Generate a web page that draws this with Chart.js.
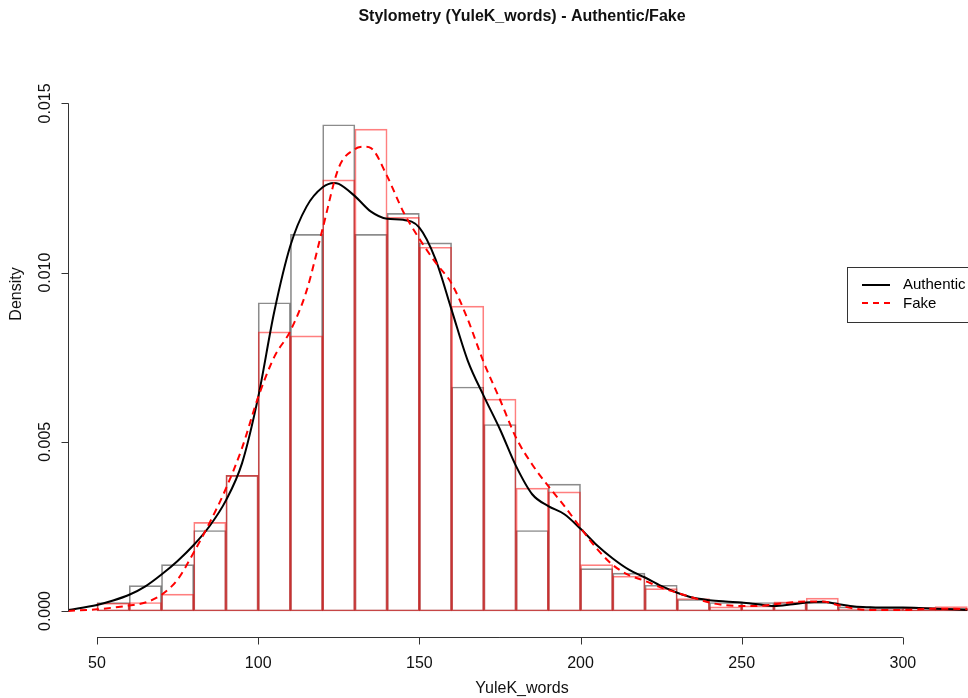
<!DOCTYPE html>
<html><head><meta charset="utf-8">
<script src="https://cdn.jsdelivr.net/npm/chart.js@4.4.1/dist/chart.umd.min.js"></script>
<style>html,body{margin:0;padding:0;background:#fff;overflow:hidden}#wrap{width:968px;height:698px;position:relative}</style>
</head><body><div id="wrap"><canvas id="c" width="968" height="698"></canvas></div>
<script>
// ---- data ----
const titleText = "Stylometry (YuleK_words) - Authentic/Fake";
const xLabel = "YuleK_words";
const yLabel = "Density";
const seriesNames = ["Authentic", "Fake"];
const xTicks = [50, 100, 150, 200, 250, 300];
const yTicks = [0, 0.005, 0.010, 0.015];
const yTickLabels = ["0.000", "0.005", "0.010", "0.015"];
const binWidth = 10;
const binStarts = [50,60,70,80,90,100,110,120,130,140,150,160,170,180,190,200,210,220,230,240,250,260,270,280,290,300,310];
const authHist = [0.00025,0.00075,0.00137,0.00238,0.00401,0.00911,0.01113,0.01437,0.01113,0.01175,0.01088,0.00662,0.00551,0.00238,0.00375,0.00125,0.00112,0.00076,0.00034,0.00025,0.00025,0.00025,0.00025,0.00012,0.0001,0.0001,0.00008];
const fakeHist = [0.00023,0.00025,0.0005,0.00262,0.00401,0.00825,0.00813,0.01274,0.01424,0.01163,0.01075,0.00901,0.00626,0.00363,0.00352,0.00137,0.00103,0.00066,0.00037,0.00012,0.00015,0.00027,0.00038,0.00005,0.00005,0.0001,0.00013];
const authCurveX = [41,50,55,60,65,70,75,80,85,90,95,100,105,110,115,120,123.5,125,130,135,140,145,150,155,160,165,170,175,180,185,190,195,200,205,210,215,220,225,230,235,240,245,250,255,260,265,270,275,280,285,290,295,300,305,310,315,320];
const authCurveY = [0.00003,0.00018,0.00031,0.00048,0.00073,0.00108,0.00148,0.00195,0.00252,0.00327,0.00437,0.00632,0.00885,0.0108,0.01195,0.01252,0.01265,0.01262,0.01226,0.0118,0.01159,0.01156,0.01133,0.0104,0.0089,0.0074,0.00635,0.00537,0.00428,0.00345,0.0031,0.00286,0.00243,0.00195,0.00155,0.00122,0.00099,0.00074,0.00054,0.00039,0.00032,0.00028,0.00025,0.0002,0.00015,0.00019,0.00025,0.00027,0.0002,0.00013,0.00011,0.0001,0.0001,0.00009,0.00007,0.00005,0.00003];
const fakeCurveX = [41,50,55,60,65,70,75,80,85,90,95,100,105,110,115,120,125,130,133,135,140,145,150,155,160,165,170,175,180,185,190,195,200,205,210,215,220,225,230,235,240,245,250,255,260,265,270,275,280,285,290,295,300,305,310,315,320];
const fakeCurveY = [0.0,0.00005,0.0001,0.00016,0.00025,0.00048,0.00093,0.00173,0.00262,0.00362,0.00482,0.00632,0.00751,0.00828,0.00946,0.0113,0.0131,0.01365,0.01372,0.01368,0.01285,0.0118,0.011,0.0103,0.00968,0.00862,0.00734,0.00625,0.00512,0.00433,0.00369,0.0031,0.00246,0.00185,0.00136,0.00106,0.00089,0.00069,0.00054,0.00039,0.00025,0.00017,0.00015,0.00015,0.0002,0.00025,0.00028,0.00028,0.00017,0.00007,0.00003,0.00003,0.00003,0.00005,0.00007,0.00007,0.00005];

// ---- build ----
const toBars = (h) => binStarts.map((s, i) => ({x: s + binWidth / 2, y: h[i]}));
const toPts = (xs, ys) => xs.map((v, i) => ({x: v, y: ys[i]}));
const FONT = "'Liberation Sans', Arial, Helvetica, sans-serif";

const rAxes = {
  id: 'rAxes',
  afterDraw(chart) {
    const ctx = chart.ctx, xs = chart.scales.x, ys = chart.scales.y, ca = chart.chartArea;
    ctx.save();
    ctx.strokeStyle = '#333'; ctx.fillStyle = '#111'; ctx.lineWidth = 1;
    // x axis
    const axY = Math.round(ca.bottom) + 0.5;
    ctx.beginPath();
    ctx.moveTo(xs.getPixelForValue(xTicks[0]), axY);
    ctx.lineTo(xs.getPixelForValue(xTicks[xTicks.length - 1]), axY);
    xTicks.forEach(t => { const p = Math.round(xs.getPixelForValue(t)) + 0.5; ctx.moveTo(p, axY); ctx.lineTo(p, axY + 7); });
    ctx.stroke();
    ctx.font = '16px ' + FONT; ctx.textAlign = 'center'; ctx.textBaseline = 'middle';
    xTicks.forEach(t => ctx.fillText(String(t), xs.getPixelForValue(t), axY + 26));
    ctx.fillText(xLabel, (ca.left + 976) / 2, axY + 51);
    // y axis
    const axX = Math.round(ca.left) + 0.5;
    ctx.beginPath();
    ctx.moveTo(axX, ys.getPixelForValue(yTicks[0]));
    ctx.lineTo(axX, ys.getPixelForValue(yTicks[yTicks.length - 1]));
    yTicks.forEach(t => { const p = Math.round(ys.getPixelForValue(t)) + 0.5; ctx.moveTo(axX, p); ctx.lineTo(axX - 7, p); });
    ctx.stroke();
    yTicks.forEach((t, i) => {
      ctx.save(); ctx.translate(axX - 23, ys.getPixelForValue(t)); ctx.rotate(-Math.PI / 2);
      ctx.fillText(yTickLabels[i], 0, 0); ctx.restore();
    });
    ctx.save(); ctx.translate(17, 294); ctx.rotate(-Math.PI / 2); ctx.fillText(yLabel, 0, 0); ctx.restore();
    // title
    ctx.font = 'bold 16px ' + FONT;
    ctx.fillText(titleText, (ca.left + 976) / 2, 17);
    // legend
    ctx.strokeStyle = '#333'; ctx.lineWidth = 1;
    ctx.strokeRect(847.5, 267.5, 140, 55);
    ctx.lineWidth = 2; ctx.strokeStyle = '#000';
    ctx.beginPath(); ctx.moveTo(862, 285); ctx.lineTo(890, 285); ctx.stroke();
    ctx.strokeStyle = '#ff0000'; ctx.setLineDash([6, 5]);
    ctx.beginPath(); ctx.moveTo(862, 303); ctx.lineTo(890, 303); ctx.stroke();
    ctx.setLineDash([]);
    ctx.font = '15px ' + FONT; ctx.textAlign = 'left'; ctx.fillStyle = '#000';
    ctx.fillText(seriesNames[0], 903, 285);
    ctx.fillText(seriesNames[1], 903, 304);
    ctx.restore();
  }
};

const pxPerUnit = 33840;
new Chart(document.getElementById('c'), {
  data: {
    datasets: [
      { type: 'bar', label: 'Authentic hist', data: toBars(authHist), backgroundColor: 'rgba(0,0,0,0)',
        borderColor: 'rgba(0,0,0,0.45)', borderWidth: 1, borderSkipped: false, grouped: false,
        barPercentage: 1, categoryPercentage: 1, order: 4 },
      { type: 'bar', label: 'Fake hist', data: toBars(fakeHist), backgroundColor: 'rgba(0,0,0,0)',
        borderColor: 'rgba(255,0,0,0.5)', borderWidth: 1, borderSkipped: false, grouped: false,
        barPercentage: 1, categoryPercentage: 1, order: 3 },
      { type: 'line', label: seriesNames[0], data: toPts(authCurveX, authCurveY), borderColor: '#000',
        borderWidth: 2, pointRadius: 0, cubicInterpolationMode: 'monotone', fill: false, order: 2 },
      { type: 'line', label: seriesNames[1], data: toPts(fakeCurveX, fakeCurveY), borderColor: '#ff0000',
        borderWidth: 2, borderDash: [7, 5], pointRadius: 0, cubicInterpolationMode: 'monotone', fill: false, order: 1 }
    ]
  },
  options: {
    responsive: false, animation: false, devicePixelRatio: 1,
    layout: { padding: { left: 68, right: 0, top: 100, bottom: 61 } },
    plugins: { legend: { display: false }, title: { display: false }, tooltip: { enabled: false } },
    scales: {
      x: { type: 'linear', display: false, offset: false, min: 41, max: 320.2,
           afterBuildTicks: (s) => { s.ticks = binStarts.map(v => ({ value: v })); } },
      y: { type: 'linear', display: false, min: -26 / pxPerUnit, max: 511 / pxPerUnit }
    }
  },
  plugins: [rAxes]
});
</script></body></html>
